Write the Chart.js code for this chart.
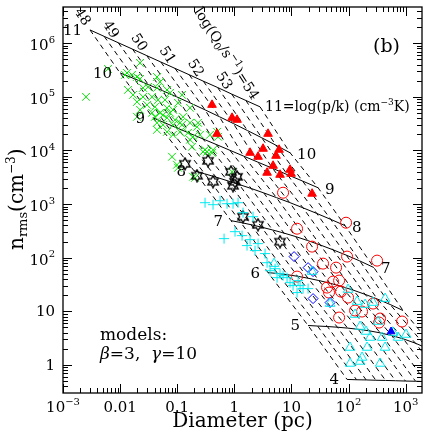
<!DOCTYPE html>
<html>
<head>
<meta charset="utf-8">
<script src="https://cdn.jsdelivr.net/npm/chart.js@4.4.1/dist/chart.umd.min.js"></script>
<style>
  html, body { margin: 0; padding: 0; background: #fff; }
  #wrap { width: 436px; height: 436px; }
</style>
</head>
<body>
<div id="wrap"><canvas id="c" width="436" height="436"></canvas></div>
<script>
/* n_rms vs diameter, panel (b) — model grid (beta=3, gamma=10) + observed HII regions.
   All values stored as log10(D/pc), log10(n_rms/cm^-3). */

// ---- model grid: rows = const log(p/k), columns = const log(Q0) ----
var logP = [11, 10, 9, 8, 7, 6, 5, 4];
var logQ = [48, 48.5, 49, 49.5, 50, 50.5, 51, 51.5, 52, 52.5, 53, 53.5, 54];
var meshLogD = [
  [-2.527, -2.279, -2.032, -1.783, -1.534, -1.287, -1.039, -0.790, -0.543, -0.294, -0.046, 0.201, 0.450],
  [-2.002, -1.753, -1.506, -1.257, -1.009, -0.762, -0.513, -0.264, -0.018, 0.231, 0.480, 0.727, 0.976],
  [-1.424, -1.214, -0.998, -0.777, -0.550, -0.317, -0.079, 0.165, 0.413, 0.669, 0.928, 1.194, 1.466],
  [-0.706, -0.517, -0.322, -0.121, 0.084, 0.296, 0.515, 0.737, 0.967, 1.201, 1.441, 1.688, 1.939],
  [-0.058, 0.114, 0.292, 0.476, 0.669, 0.867, 1.072, 1.284, 1.503, 1.729, 1.960, 2.198, 2.443],
  [0.590, 0.757, 0.928, 1.107, 1.289, 1.478, 1.673, 1.872, 2.077, 2.287, 2.504, 2.727, 2.954],
  [1.291, 1.457, 1.629, 1.804, 1.984, 2.170, 2.361, 2.555, 2.755, 2.960, 3.170, 3.384, 3.603],
  [1.974, 2.140, 2.308, 2.478, 2.648, 2.821, 2.996, 3.173, 3.348, 3.529, 3.709, 3.891, 4.075]
];
var meshLogN = [
  [6.248, 6.128, 6.009, 5.890, 5.769, 5.650, 5.531, 5.412, 5.292, 5.175, 5.052, 4.933, 4.814],
  [5.447, 5.339, 5.229, 5.115, 5.000, 4.881, 4.758, 4.631, 4.503, 4.371, 4.237, 4.099, 3.957],
  [4.609, 4.514, 4.417, 4.318, 4.216, 4.112, 4.004, 3.894, 3.782, 3.667, 3.549, 3.430, 3.305],
  [3.622, 3.564, 3.503, 3.436, 3.365, 3.291, 3.209, 3.121, 3.030, 2.931, 2.827, 2.715, 2.598],
  [2.691, 2.656, 2.616, 2.570, 2.518, 2.460, 2.395, 2.320, 2.238, 2.147, 2.048, 1.939, 1.817],
  [1.722, 1.706, 1.683, 1.654, 1.618, 1.575, 1.525, 1.466, 1.397, 1.318, 1.229, 1.128, 1.015],
  [0.736, 0.726, 0.717, 0.704, 0.687, 0.665, 0.637, 0.598, 0.549, 0.486, 0.406, 0.307, 0.184],
  [-0.270, -0.276, -0.279, -0.285, -0.289, -0.294, -0.300, -0.304, -0.309, -0.315, -0.320, -0.326, -0.330]
];

// ---- observed samples [logD, logN] ----
var greenCross = [
  [-2.597,5.000], [-2.212,5.521], [-1.651,5.633], [-1.879,5.447], [-1.792,5.410], [-1.704,5.372],
  [-1.651,5.335], [-1.354,5.372], [-1.862,5.130], [-1.511,5.186], [-1.179,5.130], [-0.916,5.037],
  [-1.599,5.000], [-1.441,5.000], [-1.336,4.944], [-1.214,4.944], [-1.704,4.907], [-1.529,4.851],
  [-1.389,4.814], [-1.651,4.758], [-1.179,4.795], [-1.074,4.758], [-1.441,4.702], [-1.301,4.702],
  [-1.704,4.628], [-1.179,4.609], [-1.039,4.572], [-0.898,4.628], [-1.354,4.516], [-1.249,4.479],
  [-1.074,4.479], [-0.916,4.479], [-0.776,4.516], [-0.636,4.516], [-1.354,4.386], [-1.179,4.348],
  [-0.951,4.348], [-0.811,4.330], [-0.653,4.441], [-1.074,4.293], [-0.723,4.255], [-0.601,4.293],
  [-0.776,4.200], [-0.741,4.069], [-0.478,3.976], [-1.091,3.883], [-1.004,3.734], [-0.723,3.510],
  [-0.513,4.013], [-0.373,4.013], [-0.285,4.255], [-0.303,4.348], [-0.426,4.293], [-0.548,3.976],
  [-0.391,3.957], [-0.040,3.603], [-1.389,4.628], [-1.249,4.665], [-1.126,4.702], [-0.951,4.516],
  [-0.688,3.492], [-0.986,3.678], [-1.914,5.410], [-1.354,5.168], [-1.599,5.168], [-1.774,5.037],
  [-1.301,5.279], [-1.126,5.075], [-0.776,4.795], [-0.986,4.888]
];
var redTri = [
  [-0.391,4.851], [-0.040,4.609], [0.047,4.572], [-0.303,4.311], [0.590,4.311], [0.275,3.957],
  [0.503,4.032], [0.415,3.883], [0.783,4.013], [0.730,3.901], [0.678,3.715], [0.573,3.585],
  [0.800,3.547], [0.975,3.641], [0.993,3.566], [1.361,3.194]
];
var redCircle = [
  [0.853,3.212], [1.098,2.541], [1.956,2.653], [1.361,2.207], [1.974,2.021], [2.499,1.946],
  [1.553,1.890], [1.781,1.815], [1.098,1.648], [1.729,1.555], [1.834,1.574], [1.623,1.443],
  [1.658,1.350], [1.868,1.368], [1.991,1.257], [2.429,1.145], [2.114,1.015], [2.236,0.996],
  [1.834,0.884], [2.552,0.866], [2.534,0.791], [2.937,0.810]
];
var blackStar = [
  [-0.863,3.752], [-0.461,3.808], [-0.653,3.529], [-0.373,3.417], [-0.058,3.603], [0.012,3.417],
  [0.047,3.510], [-0.023,3.343], [0.152,2.765], [0.415,2.616], [0.800,2.300]
];
var cyanPlus = [
  [-0.513,3.026], [-0.373,2.989], [-0.250,3.063], [-0.128,3.007], [-0.023,3.007], [0.065,3.026],
  [0.152,2.840], [0.327,2.765], [-0.180,2.356], [0.012,2.486], [0.135,2.412], [0.275,2.337],
  [0.222,2.226], [0.415,2.263], [0.362,2.133], [0.538,2.077], [0.573,1.907], [0.625,1.758],
  [0.713,1.795], [0.800,1.702], [0.748,1.628], [0.853,1.665], [0.923,1.628], [0.975,1.535],
  [1.028,1.480], [1.116,1.573], [1.151,1.480], [1.098,1.350], [1.203,1.424], [1.291,1.424]
];
var blueDiamond = [
  [1.046,2.021], [1.291,1.815], [1.378,1.741], [1.378,1.238], [1.676,1.164]
];
var cyanTri = [
  [0.695,1.890], [1.361,1.741], [1.991,1.406], [2.149,1.182], [2.289,1.126], [2.429,1.164],
  [2.639,1.238], [1.676,1.145], [2.114,0.940], [2.517,0.810], [2.201,0.717], [2.306,0.624],
  [2.376,0.512], [2.587,0.512], [2.779,0.605], [2.867,0.512], [3.007,0.568], [2.026,0.326],
  [2.324,0.326], [2.639,0.326], [2.236,0.140], [2.201,0.065], [2.026,0.028], [2.552,0.028]
];
var blueTriFilled = [[2.744,0.624]];

// ---- axes ----
var xRange = [1e-3, 1930];
var yRange = [0.314, 4.74e6];
var xTickLabels = [['10', '\u22123'], ['0.01', ''], ['0.1', ''], ['1', ''], ['10', ''], ['10', '2'], ['10', '3']];
var xTickDecades = [-3, -2, -1, 0, 1, 2, 3];
var yTickLabels = [['1', ''], ['10', ''], ['10', '2'], ['10', '3'], ['10', '4'], ['10', '5'], ['10', '6']];
var yTickDecades = [0, 1, 2, 3, 4, 5, 6];

var SERIF = "'DejaVu Serif', serif";

function toPts(list) {
  return list.map(function (p) { return { x: Math.pow(10, p[0]), y: Math.pow(10, p[1]) }; });
}

// open six-pointed star marker
function starImg() {
  var c = document.createElement('canvas'); c.width = 14; c.height = 14;
  var g = c.getContext('2d');
  g.strokeStyle = '#000'; g.lineWidth = 1.3;
  g.beginPath();
  for (var k = 0; k < 12; k++) {
    var r = k % 2 ? 3.4 : 6, a = -Math.PI / 2 + k * Math.PI / 6;
    var px = 7 + r * Math.cos(a), py = 7 + r * Math.sin(a);
    if (k) g.lineTo(px, py); else g.moveTo(px, py);
  }
  g.closePath(); g.stroke();
  return c;
}

function pointSet(list, style, radius, color, filled) {
  return {
    data: toPts(list), showLine: false, pointStyle: style, pointRadius: radius,
    borderColor: color, pointBorderColor: color, borderWidth: 1, pointBorderWidth: 1,
    backgroundColor: filled ? color : 'rgba(0,0,0,0)',
    pointBackgroundColor: filled ? color : 'rgba(0,0,0,0)', order: 0
  };
}

var datasets = [
  pointSet(blueTriFilled, 'triangle', 4.5, '#0000ff', true),
  pointSet(cyanTri, 'triangle', 5.5, '#00eaf0', false),
  pointSet(blueDiamond, 'rectRot', 5, '#0000ff', false),
  pointSet(cyanPlus, 'cross', 5, '#00eaf0', false),
  pointSet(blackStar, starImg(), 5, '#000', false),
  pointSet(redCircle, 'circle', 5.5, '#ff0000', false),
  pointSet(redTri, 'triangle', 5, '#ff0000', true),
  pointSet(greenCross, 'crossRot', 5.5, '#00e600', false)
];

// solid lines: constant pressure
logP.forEach(function (p, i) {
  datasets.push({
    data: meshLogD[i].map(function (d, j) { return { x: Math.pow(10, d), y: Math.pow(10, meshLogN[i][j]) }; }),
    showLine: true, borderColor: '#000', borderWidth: 1, pointRadius: 0, order: 10
  });
});
// dashed lines: constant Q0
logQ.forEach(function (q, j) {
  datasets.push({
    data: logP.map(function (p, i) { return { x: Math.pow(10, meshLogD[i][j]), y: Math.pow(10, meshLogN[i][j]) }; }),
    showLine: true, borderColor: '#000', borderWidth: 1, borderDash: [5, 4], pointRadius: 0, order: 10
  });
});

// text with a raised (or lowered) small part
function richText(ctx, parts, x, y, align) {
  var w = 0;
  parts.forEach(function (p) { ctx.font = (p.style || '') + ' ' + p.size + 'px ' + SERIF; w += ctx.measureText(p.t).width; });
  var cx = align === 'center' ? x - w / 2 : align === 'right' ? x - w : x;
  parts.forEach(function (p) {
    ctx.font = (p.style || '') + ' ' + p.size + 'px ' + SERIF;
    ctx.fillText(p.t, cx, y + (p.dy || 0));
    cx += ctx.measureText(p.t).width;
  });
  return w;
}

var decor = {
  id: 'decor',
  afterDatasetsDraw: function (chart) {
    var ctx = chart.ctx, a = chart.chartArea, xs = chart.scales.x, ys = chart.scales.y;
    ctx.save();
    ctx.fillStyle = '#000'; ctx.strokeStyle = '#000';

    // frame
    ctx.lineWidth = 1.3;
    ctx.strokeRect(a.left, a.top, a.right - a.left, a.bottom - a.top);

    // inward ticks on all sides
    ctx.lineWidth = 1;
    function ticks(range, fn) {
      var k0 = Math.floor(Math.log10(range[0])), k1 = Math.ceil(Math.log10(range[1]));
      for (var k = k0; k <= k1; k++) {
        for (var m = 1; m <= 9; m++) {
          var v = m * Math.pow(10, k);
          if (v < range[0] * 0.999 || v > range[1] * 1.001) continue;
          fn(v, m === 1 ? 9 : 5);
        }
      }
    }
    ctx.beginPath();
    ticks(xRange, function (v, len) {
      var px = Math.round(xs.getPixelForValue(v)) + 0.5;
      ctx.moveTo(px, a.bottom); ctx.lineTo(px, a.bottom - len);
      ctx.moveTo(px, a.top); ctx.lineTo(px, a.top + len);
    });
    ticks(yRange, function (v, len) {
      var py = Math.round(ys.getPixelForValue(v)) + 0.5;
      ctx.moveTo(a.left, py); ctx.lineTo(a.left + len, py);
      ctx.moveTo(a.right, py); ctx.lineTo(a.right - len, py);
    });
    ctx.stroke();

    // tick labels
    ctx.textBaseline = 'middle';
    xTickDecades.forEach(function (k, i) {
      var px = xs.getPixelForValue(Math.pow(10, k));
      var L = xTickLabels[i];
      richText(ctx, [{ t: L[0], size: 15 }, { t: L[1], size: 10, dy: -6 }], px, 408, 'center');
    });
    yTickDecades.forEach(function (k, i) {
      var py = ys.getPixelForValue(Math.pow(10, k));
      var L = yTickLabels[i];
      richText(ctx, [{ t: L[0], size: 15 }, { t: L[1], size: 10, dy: -6 }], 55, py + (L[1] ? 3 : 1), 'right');
    });

    // axis titles
    ctx.textBaseline = 'alphabetic';
    richText(ctx, [{ t: 'Diameter (pc)', size: 20 }], (a.left + a.right) / 2, 427, 'center');
    ctx.save();
    ctx.translate(23, 250); ctx.rotate(-Math.PI / 2);
    richText(ctx, [{ t: 'n', size: 20 }, { t: 'rms', size: 13, dy: 4 }, { t: '(cm', size: 20 },
      { t: '\u22123', size: 12, dy: -8 }, { t: ')', size: 20 }], 0, 0, 'left');
    ctx.restore();

    // grid labels: log(p/k) at both ends
    function node(i, j) { return { x: xs.getPixelForValue(Math.pow(10, meshLogD[i][j])), y: ys.getPixelForValue(Math.pow(10, meshLogN[i][j])) }; }
    ctx.textBaseline = 'middle';
    logP.forEach(function (p, i) {
      var s = node(i, 0);
      richText(ctx, [{ t: String(p), size: 15 }], s.x - 8, s.y + 1, 'right');
      var e = node(i, logQ.length - 1);
      if (p === 11) {
        richText(ctx, [{ t: '11=log(p/k) (cm', size: 14 }, { t: '\u22123', size: 9, dy: -5 }, { t: 'K)', size: 14 }], e.x + 5, e.y + 1, 'left');
      } else if (e.x < a.right - 20) {
        richText(ctx, [{ t: String(p), size: 15 }], e.x + 7, e.y + 2, 'left');
      }
    });

    // grid labels: log(Q0) along the top solid line, rotated with the dashed lines
    var ang = 57 * Math.PI / 180;
    logQ.forEach(function (q, j) {
      if (q % 1 !== 0) return;
      var n = node(0, j);
      ctx.save();
      if (q === 54) {
        ctx.translate(n.x - 5, n.y - 8); ctx.rotate(ang);
        richText(ctx, [{ t: 'log(Q', size: 14 }, { t: '0', size: 10, dy: 4 }, { t: '/s', size: 14 },
          { t: '\u22121', size: 10, dy: -5 }, { t: ')=54', size: 14 }], 0, 0, 'right');
      } else {
        ctx.translate(n.x - 8, n.y - 13); ctx.rotate(ang);
        richText(ctx, [{ t: String(q), size: 14 }], 0, 0, 'center');
      }
      ctx.restore();
    });

    // panel tag and model note
    ctx.textBaseline = 'alphabetic';
    richText(ctx, [{ t: '(b)', size: 19 }], 373, 52, 'left');
    richText(ctx, [{ t: 'models:', size: 17 }], 100, 340, 'left');
    richText(ctx, [{ t: '\u03b2', size: 17, style: 'italic' }, { t: '=3,  ', size: 17 },
      { t: '\u03b3', size: 17, style: 'italic' }, { t: '=10', size: 17 }], 100, 359, 'left');
    ctx.restore();
  }
};

new Chart(document.getElementById('c'), {
  type: 'scatter',
  data: { datasets: datasets },
  options: {
    responsive: false, animation: false, devicePixelRatio: 1, events: [],
    layout: { padding: { left: 63, right: 14, top: 7, bottom: 43 } },
    plugins: { legend: { display: false }, tooltip: { enabled: false } },
    scales: {
      x: { type: 'logarithmic', display: false, min: xRange[0], max: xRange[1] },
      y: { type: 'logarithmic', display: false, min: yRange[0], max: yRange[1] }
    }
  },
  plugins: [decor]
});
</script>
</body>
</html>
